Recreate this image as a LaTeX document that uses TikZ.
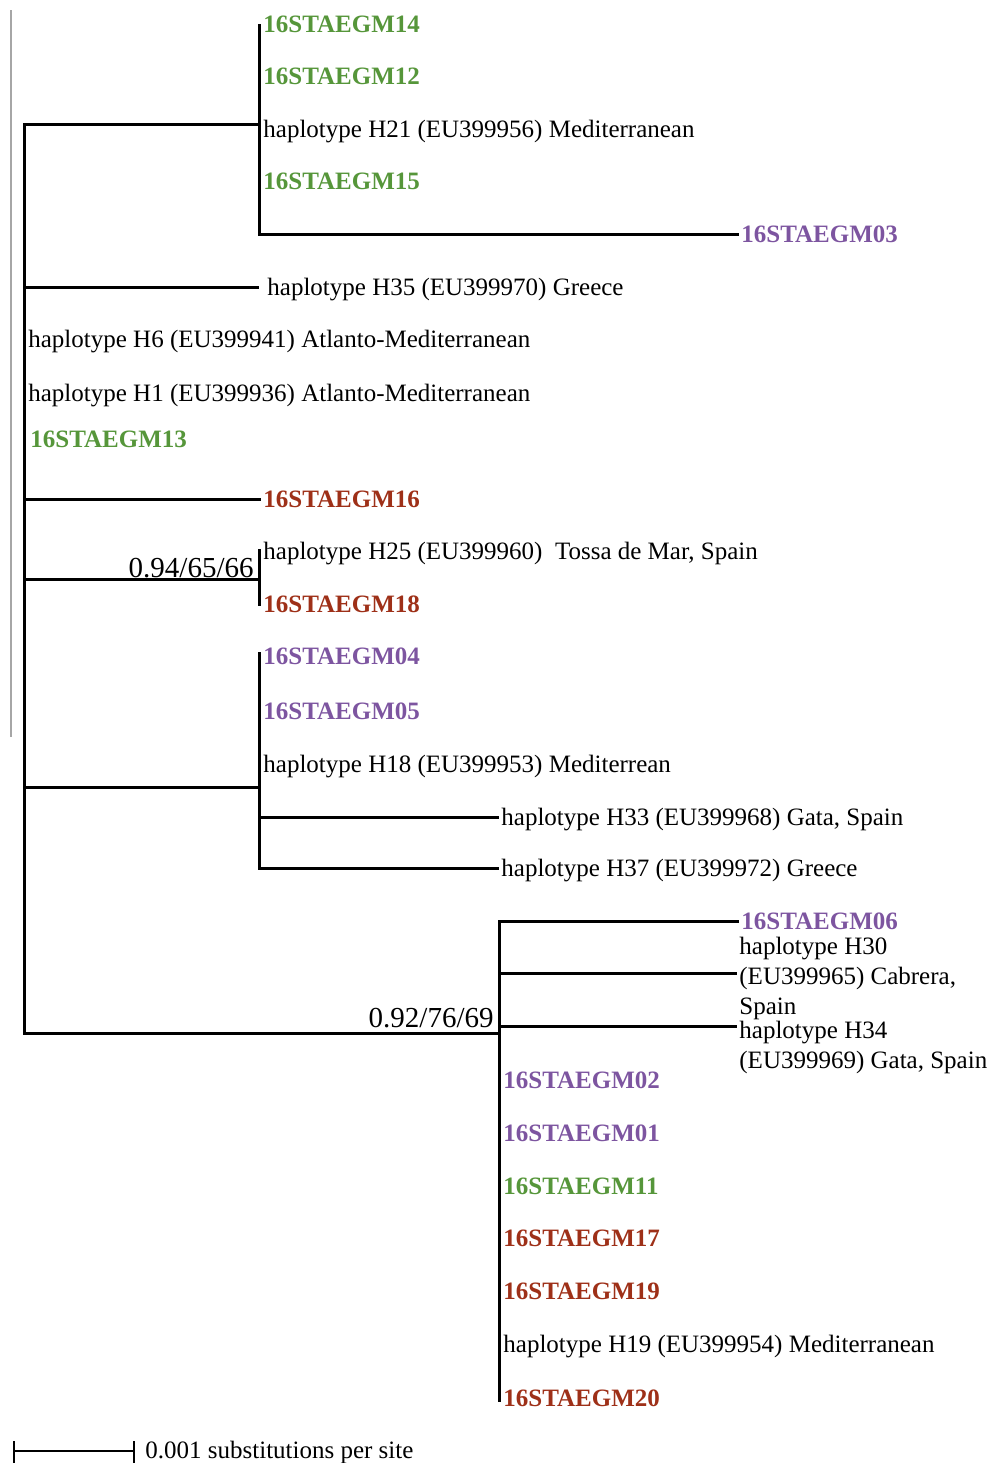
\documentclass[tikz,border=0pt]{standalone}
\usepackage{fontspec}
\setmainfont{Liberation Serif}
\usepackage{tikz}
\usetikzlibrary{positioning}
\definecolor{tipgreen}{RGB}{86,150,58}
\definecolor{tippurple}{RGB}{125,85,160}
\definecolor{tipred}{RGB}{158,48,24}

\begin{document}
\begin{tikzpicture}[x=0.5pt, y=-0.5pt]
	\tikzstyle{branch} = [line width=1.5pt];
	\tikzstyle{tip} = [anchor=west, inner sep=1pt, text height=8.3pt, text depth=0pt, font={\fontsize{12.5}{15}\selectfont}];
	\tikzstyle{sample} = [tip, font={\fontsize{12.5}{15}\selectfont\bfseries}];
	\tikzstyle{multi} = [anchor=base west, inner sep=1pt, font={\fontsize{12.5}{15}\selectfont}];
	\tikzstyle{support} = [anchor=base east, inner sep=1pt, font={\fontsize{14.5}{17}\selectfont}];

	\useasboundingbox (0,0) rectangle (995,1463);
	\draw[gray!70, line width=1pt] (11,10) -- (11,737);

	% internal nodes
	\coordinate (rt) at (24,124);
	\coordinate (a) at (259,124);
	\coordinate (e) at (259,287);
	\coordinate (b) at (259,579);
	\coordinate (c) at (259,787);
	\coordinate (d) at (499,1033);

	% clade with H21
	\foreach \n/\y in {14/24, 12/76, 15/181}
		\node[sample, text=tipgreen] (m\n) at (261,\y) {16STAEGM\n};
	\node[tip] (h21) at (261,129) {haplotype H21 (EU399956) Mediterranean};
	\node[sample, text=tippurple] (m03) at (739,234) {16STAEGM03};
	\draw[branch] (a |- m14) -- (a |- m03) -- (m03.west);

	% tips on the root
	\node[tip] (h35) at (265,287) {haplotype H35 (EU399970) Greece};
	\node[tip] (h6) at (26,339) {haplotype H6 (EU399941) Atlanto-Mediterranean};
	\node[tip] (h1) at (26,393) {haplotype H1 (EU399936) Atlanto-Mediterranean};
	\node[sample, text=tipgreen] (m13) at (28,439) {16STAEGM13};
	\node[sample, text=tipred] (m16) at (261,499) {16STAEGM16};

	% clade 0.94/65/66
	\node[tip] (h25) at (261,551) {haplotype H25 (EU399960)~ Tossa de Mar, Spain};
	\node[sample, text=tipred] (m18) at (261,604) {16STAEGM18};
	\node[support] (s1) at (256,577) {0.94/65/66};
	\draw[branch] ([yshift=1pt]b |- h25) -- ([yshift=-1pt]b |- m18);

	% clade with H18
	\foreach \n/\y in {04/656, 05/711}
		\node[sample, text=tippurple] (m\n) at (261,\y) {16STAEGM\n};
	\node[tip] (h18) at (261,764) {haplotype H18 (EU399953) Mediterrean};
	\node[tip] (h33) at (499,817) {haplotype H33 (EU399968) Gata, Spain};
	\node[tip] (h37) at (499,868) {haplotype H37 (EU399972) Greece};
	\draw[branch] ([yshift=2pt]c |- m04) -- (c |- h37) -- (h37.west);
	\draw[branch] (c |- h33) -- (h33.west);

	% clade 0.92/76/69
	\node[sample, text=tippurple] (m06) at (739,921) {16STAEGM06};
	\node[multi] (h30) at (737,954) {\begin{tabular}[t]{@{}l@{}}haplotype H30\\(EU399965) Cabrera,\\Spain\end{tabular}};
	\node[multi] (h34) at (737,1038) {\begin{tabular}[t]{@{}l@{}}haplotype H34\\(EU399969) Gata, Spain\end{tabular}};
	\coordinate (d30) at (499,973);
	\coordinate (d34) at (499,1026);
	\foreach \n/\y/\c in {02/1080/tippurple, 01/1133/tippurple, 11/1186/tipgreen, 17/1238/tipred, 19/1291/tipred, 20/1398/tipred}
		\node[sample, text=\c] (m\n) at (501,\y) {16STAEGM\n};
	\node[tip] (h19) at (501,1344) {haplotype H19 (EU399954) Mediterranean};
	\node[support] (s2) at (496,1027) {0.92/76/69};
	\draw[branch] (m06.west) -- (d |- m06) -- ([yshift=-2pt]d |- m20);
	\draw[branch] (d30) -- (d30 -| h30.west);
	\draw[branch] (d34) -- (d34 -| h34.west);

	% root and its branches
	\draw[branch] (a) -- (rt) -- (rt |- d) -- (d);
	\draw[branch] (rt |- e) -- (e);
	\draw[branch] (rt |- m16) -- (m16.west);
	\draw[branch] (rt |- b) -- (b);
	\draw[branch] (rt |- c) -- (c);

	% scale bar
	\coordinate (s0) at (14,1451);
	\coordinate (s9) at (134,1451);
	\node[tip] (scl) at (143,1450) {0.001 substitutions per site};
	\draw[line width=1.2pt] (s0) -- (s9);
	\draw[line width=1.2pt] ([yshift=5pt]s0) -- ([yshift=-6pt]s0);
	\draw[line width=1.2pt] ([yshift=5pt]s9) -- ([yshift=-6pt]s9);
\end{tikzpicture}
\end{document}
